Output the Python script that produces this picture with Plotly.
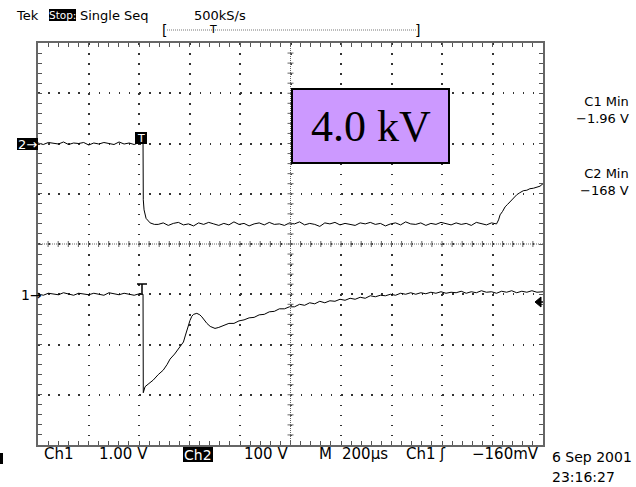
import plotly.graph_objects as go

# ---------------- data ----------------
# time axis in microseconds relative to the trigger (200 us/div)
ch1_pre_t = [-416, -395, -375, -355, -335, -315, -295, -275, -255, -235, -215,
             -195, -175, -155, -135, -115, -95, -75, -55, -35, -15, 0]
ch1_pre_v = [0.01, -0.02, 0.02, 0.00, -0.01, 0.03, 0.00, -0.02, 0.02, 0.01, -0.01,
             0.02, 0.00, -0.02, 0.03, 0.01, -0.01, 0.02, 0.00, -0.02, 0.01, 0.00]
ch1_post_t = [1, 8, 20, 40, 60, 80, 95, 107, 125, 147, 160, 167, 173, 179, 186,
              193, 200, 213, 225, 233, 245, 253, 266, 285]
ch1_post_v = [-1.96, -1.84, -1.79, -1.71, -1.60, -1.51, -1.40, -1.29, -1.19, -1.05,
              -0.95, -0.83, -0.72, -0.63, -0.52, -0.44, -0.40, -0.38, -0.41, -0.45,
              -0.53, -0.58, -0.64, -0.68]
ch1_tail_t = [300, 320, 340, 360, 380, 400, 420, 440, 460, 480, 500, 520, 540, 560,
              580, 600, 620, 640, 660, 680, 700, 720, 740, 760, 780, 800, 820, 840,
              860, 880, 900, 920, 940, 960, 980, 1000, 1020, 1040, 1060, 1080, 1100,
              1120, 1140, 1160, 1180, 1200, 1220, 1240, 1260, 1280, 1300, 1320, 1340,
              1360, 1380, 1400, 1420, 1440, 1460, 1480, 1500, 1520, 1540, 1560, 1580,
              1584]
ch1_tail_v = [-0.66, -0.62, -0.58, -0.58, -0.53, -0.51, -0.47, -0.46, -0.41, -0.40,
              -0.35, -0.34, -0.29, -0.29, -0.25, -0.25, -0.20, -0.22, -0.17, -0.19,
              -0.14, -0.17, -0.13, -0.14, -0.10, -0.12, -0.08, -0.10, -0.06, -0.08,
              -0.03, -0.05, -0.02, -0.03, 0.00, -0.02, 0.02, 0.00, 0.03, 0.00,
              0.03, 0.01, 0.04, 0.02, 0.05, 0.02, 0.04, 0.03, 0.06, 0.02,
              0.05, 0.03, 0.07, 0.04, 0.05, 0.02, 0.06, 0.04, 0.07, 0.03,
              0.06, 0.04, 0.07, 0.04, 0.06, 0.05]

ch2_pre_t = [-416, -395, -375, -355, -335, -315, -295, -275, -255, -235, -215,
             -195, -175, -155, -135, -115, -95, -75, -55, -35, -15, 0]
ch2_pre_v = [1, -2, 2, 0, -1, 3, -2, 1, 0, 2, -3, 1, -1, 2, 0, -2, 3, -1, 1, -2, 2, 0]
ch2_drop_t = [1, 4, 12, 28, 45]
ch2_drop_v = [-112, -132, -149, -158, -161]
ch2_flat_t = [60, 80, 100, 120, 140, 160, 180, 200, 220, 240, 260, 280, 300, 320,
              340, 360, 380, 400, 420, 440, 460, 480, 500, 520, 540, 560, 580, 600,
              620, 640, 660, 680, 700, 720, 740, 760, 780, 800, 820, 840, 860, 880,
              900, 920, 940, 960, 980, 1000, 1020, 1040, 1060, 1080, 1100, 1120, 1140,
              1160, 1180, 1200, 1220, 1240, 1260, 1280, 1300, 1320, 1340, 1360, 1380]
ch2_flat_v = [-161, -158, -163, -159, -157, -162, -160, -164, -158, -161,
              -157, -160, -163, -159, -162, -156, -161, -159, -164, -160,
              -158, -162, -157, -161, -160, -163, -158, -160, -156, -162,
              -159, -161, -165, -158, -160, -157, -162, -159, -161, -163,
              -158, -160, -157, -161, -159, -164, -160, -158, -162, -156,
              -160, -161, -158, -163, -159, -161, -157, -160, -162, -158,
              -161, -159, -163, -157, -160, -162, -158]
ch2_rise_t = [1400, 1408, 1414, 1424, 1434, 1444, 1453, 1466, 1480, 1492, 1506, 1520,
              1532, 1546, 1560, 1572, 1584]
ch2_rise_v = [-160, -152, -142, -135, -126, -121, -116, -110, -102, -98, -94, -93,
              -90, -89, -86, -85, -80]

ch1_t = ch1_pre_t + ch1_post_t + ch1_tail_t
ch1_v = ch1_pre_v + ch1_post_v + ch1_tail_v
ch2_t = ch2_pre_t + ch2_drop_t + ch2_flat_t + ch2_rise_t
ch2_v = ch2_pre_v + ch2_drop_v + ch2_flat_v + ch2_rise_v

x_range = [-416, 1584]      # 10 div x 200 us
ch1_range = [-3, 5]         # 1.00 V/div, ground at -1 div
ch2_range = [-600, 200]     # 100 V/div, ground at +2 div

# ---------------- layout helpers ----------------
W, H = 636, 487
L, R, T, B = 38, 93, 43, 42
PW = W - L - R
PH = H - T - B


def px(x):
    return (x - L) / PW


def py(y):
    return (H - B - y) / PH


fig = go.Figure()
fig.add_trace(go.Scatter(x=ch1_t, y=ch1_v, mode="lines", yaxis="y",
                         line=dict(color="black", width=1), hoverinfo="skip"))
fig.add_trace(go.Scatter(x=ch2_t, y=ch2_v, mode="lines", yaxis="y2",
                         line=dict(color="black", width=1), hoverinfo="skip"))

axcommon = dict(showline=True, linecolor="#666", linewidth=2, mirror="allticks",
                ticks="inside", ticklen=4, tickcolor="#555", tickwidth=1,
                showticklabels=False, zeroline=False, showgrid=True,
                gridcolor="#333", gridwidth=1.5, fixedrange=True)

fig.update_layout(
    width=W, height=H, margin=dict(l=L, r=R, t=T, b=B, pad=0),
    paper_bgcolor="white", plot_bgcolor="white", showlegend=False,
    xaxis=dict(range=x_range, tick0=x_range[0], dtick=200, griddash="1.5px,8.55px",
               minor=dict(tick0=x_range[0], dtick=40, ticks="inside", ticklen=4,
                          tickcolor="#555", showgrid=False),
               **axcommon),
    yaxis=dict(range=ch1_range, tick0=ch1_range[0], dtick=1, griddash="1.5px,8.6px",
               minor=dict(tick0=ch1_range[0], dtick=0.2, ticks="inside", ticklen=4,
                          tickcolor="#555", showgrid=False),
               **axcommon),
    yaxis2=dict(range=ch2_range, overlaying="y", visible=False, fixedrange=True),
)

shapes = []
# centre cross-hair with minor ticks
shapes.append(dict(type="line", xref="paper", yref="paper", x0=0.5, x1=0.5, y0=0, y1=1,
                   line=dict(color="#666", width=1, dash="1px,1px")))
shapes.append(dict(type="line", xref="paper", yref="paper", x0=0, x1=1, y0=0.5, y1=0.5,
                   line=dict(color="#666", width=1, dash="1px,1px")))
for i in range(1, 50):
    shapes.append(dict(type="line", xref="paper", yref="paper", x0=i / 50, x1=i / 50,
                       y0=0.5 - 3 / PH, y1=0.5 + 3 / PH, line=dict(color="#666", width=1)))
for j in range(1, 40):
    shapes.append(dict(type="line", xref="paper", yref="paper", y0=j / 40, y1=j / 40,
                       x0=0.5 - 3 / PW, x1=0.5 + 3 / PW, line=dict(color="#666", width=1)))


def rect(x0, y0, x1, y1, fill, line=None):
    shapes.append(dict(type="rect", xref="paper", yref="paper",
                       x0=px(x0), x1=px(x1), y0=py(y1), y1=py(y0),
                       fillcolor=fill, line=line or dict(width=0)))


def seg(x0, y0, x1, y1, color="black", width=1, dash="solid"):
    shapes.append(dict(type="line", xref="paper", yref="paper",
                       x0=px(x0), x1=px(x1), y0=py(y0), y1=py(y1),
                       line=dict(color=color, width=width, dash=dash)))


# 4.0 kV box
rect(292, 89, 449, 163, "#CC99FF", dict(color="black", width=2))
# header black boxes
rect(49, 9, 76, 21, "black")
rect(183, 447, 213, 462, "black")
# ch2 ground marker and trigger marker
rect(17, 138, 38, 150, "black")
rect(135, 132, 147, 144, "black")
# ch1 trigger "T"
seg(137, 284, 147, 284, width=1.5)
seg(142, 284, 142, 295, width=1.5)
# trigger level arrow at right edge
shapes.append(dict(type="path", xref="paper", yref="paper",
                   path=f"M {px(535)},{py(302)} L {px(541)},{py(297)} L {px(541)},{py(307)} Z",
                   fillcolor="black", line=dict(color="black", width=1)))
seg(540, 302, 543, 302, width=1.5)
# record bracket at top
seg(167, 30, 416, 30, color="#777", width=1, dash="1px,1px")
# small mark bottom-left
rect(0, 453, 3, 464, "black")

fig.update_layout(shapes=shapes)

anns = []


def ann(text, x, y, size, xanchor="left", color="black", family="DejaVu Sans",
        align="left"):
    anns.append(dict(text=text, x=px(x), y=py(y), xref="paper", yref="paper",
                     xanchor=xanchor, yanchor="middle", showarrow=False, align=align,
                     font=dict(size=size, color=color, family=family)))


ann("Tek", 14, 15, 13)
ann("Stop:", 62.5, 15, 10.5, xanchor="center", color="white")
ann("Single Seq", 78, 15, 13)
ann("500kS/s", 192, 15, 13)
ann("[", 164.5, 30, 14, xanchor="center")
ann("T", 213, 29, 11, xanchor="center")
ann("]", 417, 30, 14, xanchor="center")

ann("4.0 kV", 370.5, 126, 44, xanchor="center", family="Liberation Serif")

ann("C1 Min<br>\u22121.96 V", 631, 110, 13, xanchor="right", align="right")
ann("C2 Min<br>\u2212168 V", 631, 182, 13, xanchor="right", align="right")

ann("2\u2192", 27.5, 144, 13, xanchor="center", color="white")
ann("T", 141, 138, 11, xanchor="center", color="white")
ann("1\u2192", 19, 295, 14)

ann("Ch1", 42, 454, 15)
ann("1.00 V", 97, 454, 15)
ann("Ch2", 198, 454.5, 14, xanchor="center", color="white")
ann("100 V", 242, 454, 15)
ann("M", 317, 454, 15)
ann("200\u00b5s", 340, 454, 15)
ann("Ch1", 404, 454, 15)
ann("\u0283", 437, 454, 15)
ann("\u2212160mV", 470, 454, 15)
ann("6 Sep 2001", 550, 457, 14)
ann("23:16:27", 550, 477, 14)

fig.update_layout(annotations=anns)

fig.write_html("out.html", config=dict(displayModeBar=False))
